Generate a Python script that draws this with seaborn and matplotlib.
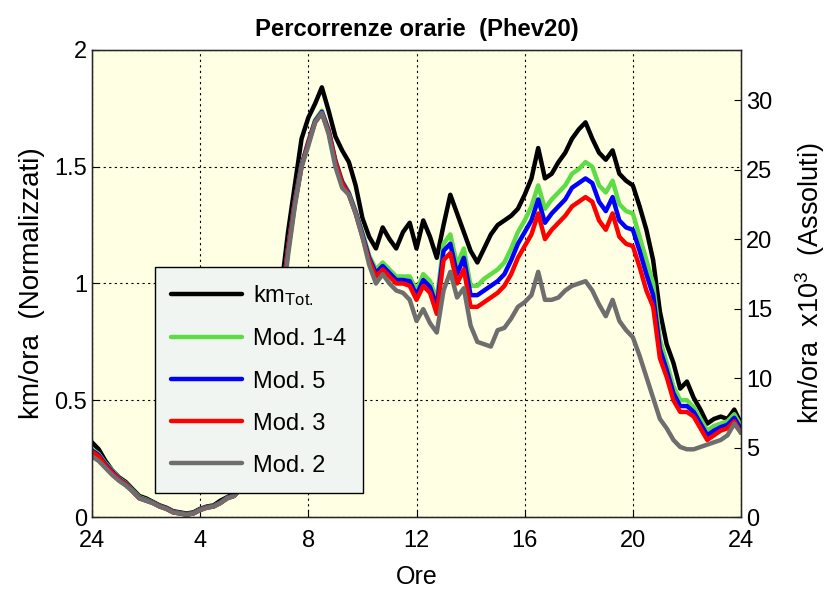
import numpy as np
import pandas as pd
import matplotlib
matplotlib.use('Agg')
import matplotlib.pyplot as plt
import seaborn as sns

# hours of day, sampled every 15 minutes
ore = np.arange(0, 24.01, 0.25)

km_tot = [0.32, 0.29, 0.24, 0.20, 0.17, 0.15, 0.12, 0.09, 0.08, 0.065, 0.05, 0.04,
          0.025, 0.02, 0.015, 0.02, 0.035, 0.045, 0.05, 0.07, 0.085, 0.10, 0.13, 0.18,
          0.25, 0.36, 0.50, 0.68, 0.98, 1.22, 1.42, 1.62, 1.71, 1.77, 1.84, 1.74,
          1.63, 1.57, 1.52, 1.42, 1.28, 1.20, 1.15, 1.24, 1.19, 1.15, 1.22, 1.26,
          1.15, 1.27, 1.20, 1.11, 1.25, 1.38, 1.30, 1.22, 1.14, 1.09, 1.15, 1.21,
          1.25, 1.27, 1.29, 1.32, 1.38, 1.45, 1.58, 1.45, 1.47, 1.52, 1.56, 1.62,
          1.66, 1.69, 1.62, 1.56, 1.53, 1.57, 1.47, 1.44, 1.42, 1.33, 1.23, 1.10,
          0.88, 0.74, 0.66, 0.55, 0.58, 0.51, 0.46, 0.40, 0.42, 0.43, 0.42, 0.46, 0.40]

mod_14 = [0.29, 0.27, 0.23, 0.20, 0.165, 0.145, 0.115, 0.085, 0.075, 0.062, 0.047, 0.037,
          0.022, 0.017, 0.012, 0.017, 0.032, 0.042, 0.047, 0.062, 0.082, 0.092, 0.122, 0.163,
          0.224, 0.325, 0.456, 0.628, 0.91, 1.15, 1.35, 1.51, 1.61, 1.70, 1.74, 1.66,
          1.53, 1.44, 1.39, 1.31, 1.22, 1.12, 1.06, 1.09, 1.06, 1.03, 1.03, 1.03,
          0.97, 1.04, 1.01, 0.93, 1.17, 1.21, 1.08, 1.15, 0.99, 0.99, 1.02, 1.04,
          1.06, 1.09, 1.15, 1.22, 1.27, 1.33, 1.42, 1.32, 1.36, 1.39, 1.42, 1.47,
          1.49, 1.52, 1.50, 1.42, 1.39, 1.44, 1.34, 1.31, 1.30, 1.20, 1.10, 1.00,
          0.76, 0.66, 0.56, 0.50, 0.50, 0.47, 0.42, 0.37, 0.39, 0.40, 0.41, 0.44, 0.39]

mod_5 = [0.285, 0.265, 0.225, 0.195, 0.162, 0.142, 0.112, 0.082, 0.072, 0.061, 0.046, 0.036,
         0.021, 0.016, 0.011, 0.016, 0.031, 0.041, 0.046, 0.061, 0.081, 0.091, 0.121, 0.161,
         0.222, 0.322, 0.453, 0.624, 0.905, 1.145, 1.345, 1.505, 1.605, 1.695, 1.735, 1.655,
         1.525, 1.435, 1.385, 1.305, 1.21, 1.11, 1.045, 1.075, 1.045, 1.015, 1.015, 1.01,
         0.95, 1.015, 0.985, 0.90, 1.14, 1.17, 1.04, 1.11, 0.95, 0.95, 0.97, 0.99,
         1.01, 1.04, 1.10, 1.17, 1.22, 1.27, 1.36, 1.26, 1.30, 1.33, 1.36, 1.41,
         1.43, 1.45, 1.43, 1.35, 1.31, 1.37, 1.27, 1.24, 1.23, 1.14, 1.04, 0.95,
         0.72, 0.63, 0.53, 0.475, 0.475, 0.45, 0.40, 0.35, 0.37, 0.385, 0.395, 0.425, 0.375]

mod_3 = [0.28, 0.26, 0.22, 0.19, 0.16, 0.14, 0.11, 0.08, 0.07, 0.06, 0.045, 0.035,
         0.02, 0.015, 0.01, 0.015, 0.03, 0.04, 0.045, 0.06, 0.08, 0.09, 0.12, 0.16,
         0.22, 0.32, 0.45, 0.62, 0.90, 1.14, 1.34, 1.50, 1.60, 1.69, 1.73, 1.65,
         1.52, 1.43, 1.38, 1.30, 1.20, 1.10, 1.03, 1.06, 1.03, 1.00, 1.00, 0.99,
         0.93, 0.99, 0.96, 0.87, 1.10, 1.13, 1.00, 1.06, 0.90, 0.90, 0.92, 0.94,
         0.96, 0.99, 1.04, 1.11, 1.16, 1.21, 1.30, 1.19, 1.23, 1.26, 1.29, 1.33,
         1.35, 1.37, 1.35, 1.27, 1.23, 1.30, 1.20, 1.17, 1.16, 1.07, 0.97, 0.90,
         0.68, 0.60, 0.50, 0.45, 0.45, 0.43, 0.38, 0.33, 0.35, 0.37, 0.38, 0.41, 0.36]

mod_2 = [0.26, 0.24, 0.21, 0.18, 0.155, 0.135, 0.11, 0.08, 0.07, 0.06, 0.045, 0.035,
         0.02, 0.015, 0.01, 0.015, 0.03, 0.04, 0.045, 0.06, 0.08, 0.09, 0.12, 0.16,
         0.22, 0.32, 0.45, 0.62, 0.88, 1.12, 1.33, 1.50, 1.59, 1.69, 1.73, 1.64,
         1.50, 1.41, 1.38, 1.30, 1.20, 1.08, 1.00, 1.04, 1.00, 0.97, 0.96, 0.93,
         0.84, 0.89, 0.83, 0.79, 0.97, 1.05, 0.94, 0.98, 0.82, 0.75, 0.74, 0.73,
         0.80, 0.81, 0.85, 0.90, 0.92, 0.95, 1.05, 0.93, 0.93, 0.94, 0.97, 0.99,
         1.00, 1.01, 0.97, 0.91, 0.86, 0.93, 0.84, 0.80, 0.77, 0.69, 0.60, 0.51,
         0.42, 0.38, 0.33, 0.30, 0.29, 0.29, 0.30, 0.31, 0.32, 0.33, 0.35, 0.40, 0.36]

labels = [r'km$_{\mathrm{Tot.}}$', 'Mod. 1-4', 'Mod. 5', 'Mod. 3', 'Mod. 2']
colors = ['#000000', '#5EDC45', '#0000FF', '#FF0000', '#6E6E6E']
x_ticks = [0, 4, 8, 12, 16, 20, 24]
x_ticklabels = ['24', '4', '8', '12', '16', '20', '24']
scale_abs = 16.8  # thousand km per normalised unit (right axis)

df = pd.DataFrame({'ore': np.tile(ore, 5),
                   'valore': np.concatenate([km_tot, mod_14, mod_5, mod_3, mod_2]),
                   'serie': np.repeat(labels, len(ore))})

sns.set_style('ticks')
plt.rcParams['font.family'] = ['Liberation Sans', 'DejaVu Sans']
plt.rcParams['mathtext.fontset'] = 'custom'
plt.rcParams['mathtext.rm'] = 'Liberation Sans'
plt.rcParams['mathtext.it'] = 'Liberation Sans'
plt.rcParams['text.color'] = 'black'
plt.rcParams['axes.labelcolor'] = 'black'
plt.rcParams['xtick.color'] = 'black'
plt.rcParams['ytick.color'] = 'black'

fig = plt.figure(figsize=(8.33, 5.90), dpi=100)
ax = fig.add_axes([0.1104, 0.1237, 0.7792, 0.7916])
ax.set_facecolor('#FFFFE3')

sns.lineplot(data=df, x='ore', y='valore', hue='serie', hue_order=labels,
             palette=colors, linewidth=3.2, ax=ax, legend=False)

ax.set_xlim(0, 24)
ax.set_ylim(0, 2)
ax.set_xticks(x_ticks)
ax.set_xticklabels(x_ticklabels)
ax.set_yticks([0, 0.5, 1, 1.5, 2])
ax.set_yticklabels(['0', '0.5', '1', '1.5', '2'])
ax.grid(True, color='black', linestyle=(0, (2, 3)), linewidth=0.8)
ax.tick_params(axis='x', pad=9)
ax.tick_params(direction='in', labelsize=17, length=5, width=0.8, right=False)
ax.set_xlabel('Ore', fontsize=18, labelpad=10)
ax.set_ylabel('km/ora  (Normalizzati)', fontsize=20, labelpad=7)
ax.set_title('Percorrenze orarie  (Phev20)', fontsize=17.2, fontweight='bold', pad=10)
for s in ax.spines.values():
    s.set_linewidth(1.0)
    s.set_color('black')

ax2 = ax.twinx()
ax2.set_ylim(0, 2 * scale_abs)
ax2.set_yticks([0, 5, 10, 15, 20, 25, 30])
ax2.tick_params(direction='in', labelsize=17, length=5, width=0.8)
ax2.set_ylabel(r'km/ora  x10$^3$  (Assoluti)', fontsize=19.5, labelpad=15)

handles = [plt.Line2D([], [], color=c, linewidth=3.2) for c in colors]
leg = ax.legend(handles, labels, loc='lower left', bbox_to_anchor=(0.097, 0.051),
                borderaxespad=0, fontsize=17, frameon=True, fancybox=False, framealpha=1,
                facecolor='#F0F5F1', edgecolor='black', handlelength=3.0,
                borderpad=0.7, labelspacing=0.85, handletextpad=0.45)
leg.get_frame().set_linewidth(1.0)

fig.savefig('out.png', dpi=100)
